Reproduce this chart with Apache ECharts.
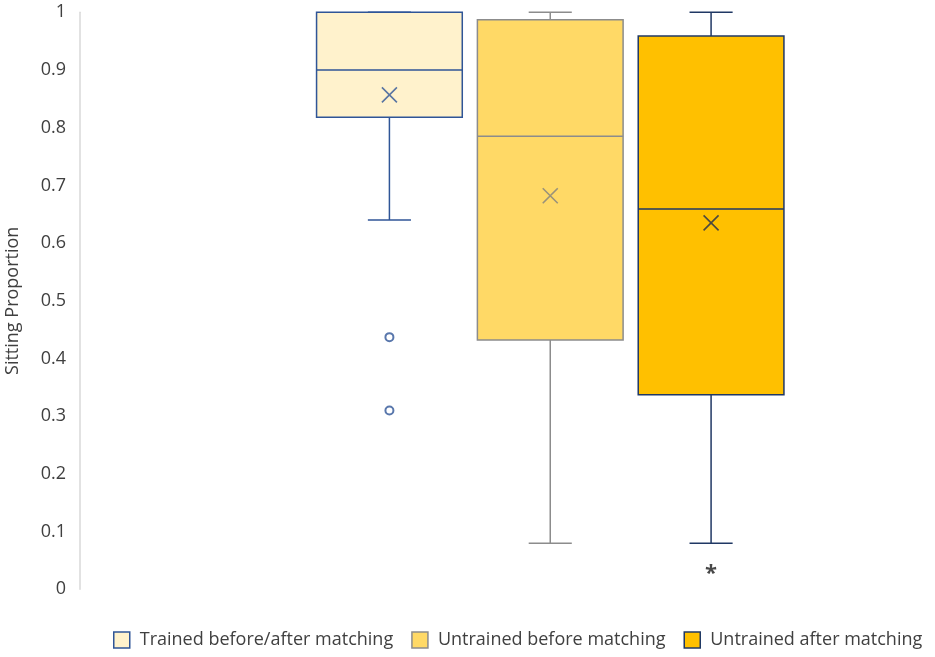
<!DOCTYPE html>
<html>
<head>
<meta charset="utf-8">
<title>Sitting Proportion</title>
<script src="https://cdn.jsdelivr.net/npm/echarts@6/dist/echarts.min.js"></script>
<style>
  html, body { margin: 0; padding: 0; background: #fff; }
  #chart { width: 935px; height: 657px; }
</style>
</head>
<body>
<div id="chart"></div>
<script>
// groups, in the order they stand on the chart
var groupNames = ['Trained before/after matching', 'Untrained before matching', 'Untrained after matching'];

// [min, Q1, median, Q3, max] per group
var boxStats = [
    [0.64, 0.818, 0.900, 1.000, 1.000],
    [0.08, 0.432, 0.785, 0.987, 1.000],
    [0.08, 0.337, 0.659, 0.959, 1.000]
];

var meanValues = [0.857, 0.682, 0.635];

// [group index, value]
var outlierPoints = [[0, 0.437], [0, 0.310]];
var starPoints = [[2, 0.033]];

var yTicks = [0, 0.1, 0.2, 0.3, 0.4, 0.5, 0.6, 0.7, 0.8, 0.9, 1];

var fillColors = ['#FFF2CC', '#FFD966', '#FFC000'];
var lineColors = ['#2F5597', '#8C8C8C', '#203864'];
var meanColors = ['#2F5597', '#7F7F7F', '#1F2B4D'];

var FONT = '"Open Sans", "Noto Sans", sans-serif';

function makeBoxRender(fill, stroke) {
    return function (params, api) {
        var c = api.value(0);
        var x = api.coord([c, 0])[0];
        var band = api.size([1, 0])[0];
        var half = band * 0.453;
        var capHalf = band * 0.134;
        var yMin = api.coord([c, api.value(1)])[1];
        var yQ1 = api.coord([c, api.value(2)])[1];
        var yMed = api.coord([c, api.value(3)])[1];
        var yQ3 = api.coord([c, api.value(4)])[1];
        var yMax = api.coord([c, api.value(5)])[1];
        var ls = { stroke: stroke, lineWidth: 1.5 };
        return {
            type: 'group',
            children: [
                { type: 'line', shape: { x1: x, y1: yMin, x2: x, y2: yQ1 }, style: ls },
                { type: 'line', shape: { x1: x - capHalf, y1: yMin, x2: x + capHalf, y2: yMin }, style: ls },
                { type: 'line', shape: { x1: x, y1: yMax, x2: x, y2: yQ3 }, style: ls },
                { type: 'line', shape: { x1: x - capHalf, y1: yMax, x2: x + capHalf, y2: yMax }, style: ls },
                { type: 'rect', shape: { x: x - half, y: yQ3, width: half * 2, height: yQ1 - yQ3 },
                  style: { fill: fill, stroke: stroke, lineWidth: 1.5 } },
                { type: 'line', shape: { x1: x - half, y1: yMed, x2: x + half, y2: yMed }, style: ls }
            ]
        };
    };
}

var series = [];
groupNames.forEach(function (name, i) {
    series.push({
        name: name,
        type: 'custom',
        renderItem: makeBoxRender(fillColors[i], lineColors[i]),
        itemStyle: { color: fillColors[i], borderColor: lineColors[i], borderWidth: 1.5 },
        encode: { x: 0, y: [1, 2, 3, 4, 5] },
        data: [[i].concat(boxStats[i])],
        z: 2
    });
});

series.push({
    type: 'scatter',
    symbol: 'path://M0,0L10,10M10,0L0,10',
    symbolSize: 15,
    z: 5,
    data: meanValues.map(function (v, i) {
        return {
            value: [i, v],
            itemStyle: { color: 'transparent', borderColor: meanColors[i], borderWidth: 1.6 }
        };
    })
});

series.push({
    type: 'scatter',
    symbol: 'emptyCircle',
    symbolSize: 8,
    z: 5,
    itemStyle: { color: '#2F5597', borderWidth: 1.5 },
    data: outlierPoints
});

series.push({
    type: 'scatter',
    symbol: 'circle',
    symbolSize: 1,
    z: 5,
    itemStyle: { color: 'transparent' },
    label: {
        show: true,
        position: 'inside',
        formatter: '*',
        color: '#1a1a1a',
        fontSize: 22,
        fontWeight: 'bold',
        fontFamily: FONT,
        offset: [0, 3]
    },
    data: starPoints
});

var option = {
    animation: false,
    backgroundColor: '#fff',
    grid: { left: 309, right: 143.5, top: 12.3, bottom: 67.7, outerBoundsMode: 'none', containLabel: false },
    legend: {
        bottom: 3,
        left: 108,
        itemWidth: 16,
        itemHeight: 16,
        itemGap: 18,
        icon: 'rect',
        textStyle: { color: '#404040', fontSize: 18, fontFamily: FONT, padding: [0, 0, 0, 5] },
        data: groupNames.map(function (name, i) {
            return { name: name, itemStyle: { color: fillColors[i], borderColor: lineColors[i], borderWidth: 1.5 } };
        })
    },
    xAxis: {
        type: 'category',
        data: groupNames,
        show: false
    },
    yAxis: {
        type: 'value',
        min: 0,
        max: 1,
        interval: 0.1,
        offset: 229,
        name: 'Sitting Proportion',
        nameLocation: 'middle',
        nameGap: 58,
        nameTextStyle: { color: '#404040', fontSize: 18, fontFamily: FONT },
        axisLine: { show: true, lineStyle: { color: '#D9D9D9', width: 1.5 } },
        axisTick: { show: false },
        splitLine: { show: false },
        axisLabel: {
            color: '#404040',
            fontSize: 18,
            fontFamily: FONT,
            margin: 14,
            formatter: function (v) {
                var t = yTicks.filter(function (k) { return Math.abs(k - v) < 1e-9; });
                return t.length ? String(t[0]) : '';
            }
        }
    },
    series: series
};

var chart = echarts.init(document.getElementById('chart'));
chart.setOption(option);
</script>
</body>
</html>
